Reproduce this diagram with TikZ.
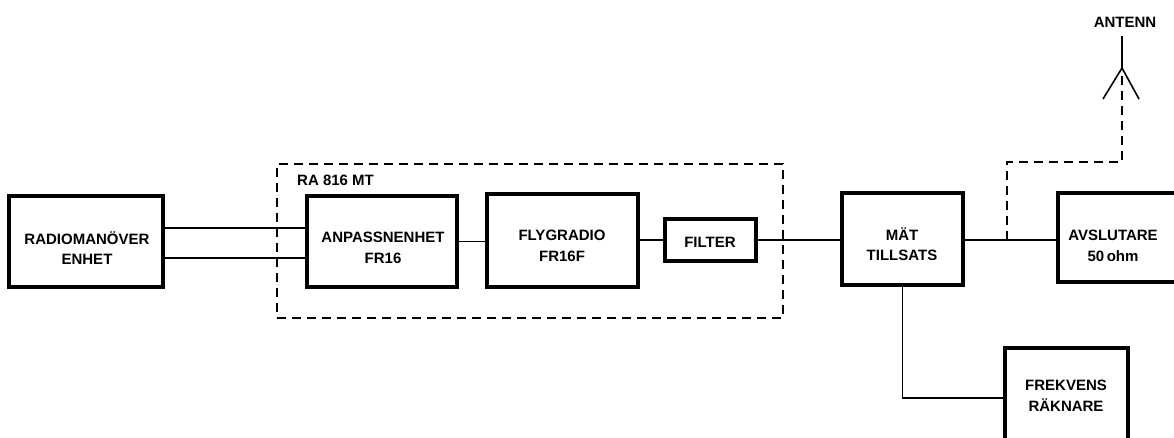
\documentclass[tikz,border=0pt]{standalone}
\usepackage{fontspec}
\setmainfont{Liberation Sans}
\begin{document}
\begin{tikzpicture}[x=1pt,y=-1pt,
  box/.style={draw, line width=3.2pt, rectangle, inner sep=0pt},
  txt/.style={align=center, inner sep=0pt, font=\fontsize{15}{20.5}\selectfont\bfseries},
  wire/.style={line width=1.6pt},
  dwire/.style={line width=1.8pt, dash pattern=on 9pt off 6pt},
  lbl/.style={font=\fontsize{15}{20}\selectfont\bfseries, inner sep=0pt}]
\useasboundingbox (0,0) rectangle (1174,437);
\clip (0,0) rectangle (1174,437);
% frame
\node[draw, dwire, rectangle, minimum width=506pt, minimum height=154pt, inner sep=0pt] (frame) at (530,241) {};
\node[lbl, anchor=west] (ra) at (297,180) {RA 816 MT};
% boxes
\node[box, minimum width=154pt, minimum height=91pt] (radio) at (86,241.5) {};
\node[box, minimum width=150pt, minimum height=91pt] (anp) at (382,241.5) {};
\node[box, minimum width=151pt, minimum height=93pt] (fly) at (562.5,240.5) {};
\node[box, minimum width=91pt, minimum height=42pt] (filter) at (710.5,240) {};
\node[box, minimum width=121pt, minimum height=92pt] (mat) at (902.5,239) {};
\node[box, minimum width=140pt, minimum height=89pt] (avs) at (1128,237.5) {};
\node[box, minimum width=123pt, minimum height=100pt] (frek) at (1066.5,398) {};
% texts
\node[txt] (radiot) at (87,248) {RADIOMANÖVER\\ENHET};
\node[txt] (anpt) at (383,248) {ANPASSNENHET\\FR16};
\node[txt] (flyt) at (562,246) {FLYGRADIO\\FR16F};
\node[txt] (filtert) at (710,242) {FILTER};
\node[txt] (matt) at (902,244) {MÄT\\TILLSATS};
\node[txt] (avst) at (1113,246) {AVSLUTARE\\50\,ohm};
\node[txt] (frekt) at (1066,396) {FREKVENS\\RÄKNARE};
% connectors
\draw[wire] ([yshift=13.5pt]radio.east) -- ([yshift=13.5pt]anp.west);
\draw[wire] ([yshift=-16.5pt]radio.east) -- ([yshift=-16.5pt]anp.west);
\draw[wire] (anp.east) -- (fly.west |- anp.east);
\draw[wire] (fly.east |- filter.west) -- (filter.west);
\draw[wire] (filter.east) -- (mat.west |- filter.east);
\coordinate (j) at (1007,240);
\draw[wire] (mat.east |- j) -- (j) -- (avs.west |- j);
\draw[wire] (mat.south) -- (mat.south |- frek.west) -- (frek.west);
% antenna
\node[lbl] (ant) at (1125,22) {ANTENN};
\coordinate (apex) at (1122,68);
\coordinate (antop) at (1122,36);
\draw[wire] (antop) -- (apex);
\draw[wire] (1103,99) -- (apex) -- (1139,99);
\coordinate (bend) at (1122,162);
\draw[dwire] (1122,76) -- (bend) -- (j |- bend) -- (j);
\end{tikzpicture}
\end{document}
